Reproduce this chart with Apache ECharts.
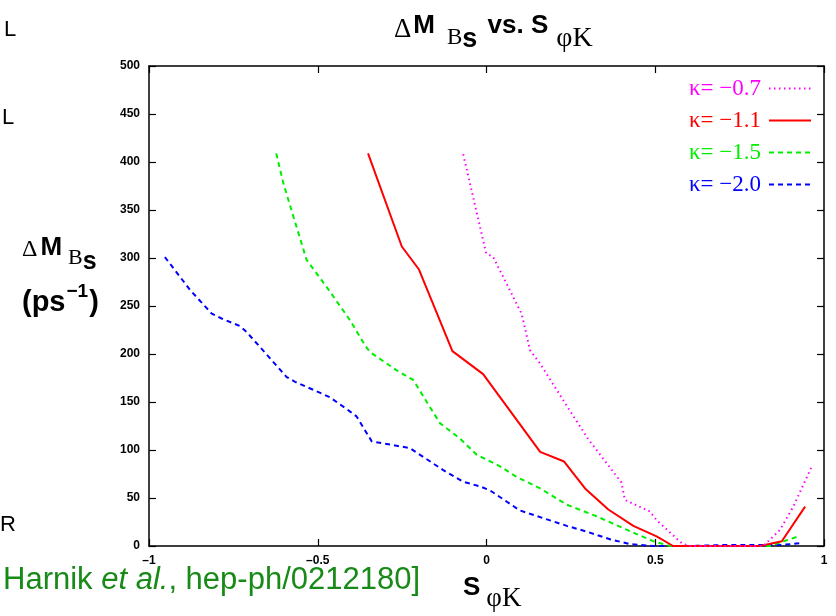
<!DOCTYPE html>
<html><head><meta charset="utf-8">
<script src="https://cdn.jsdelivr.net/npm/echarts@6/dist/echarts.min.js"></script>
<style>html,body{margin:0;padding:0;background:#fff}#c{width:836px;height:616px}</style>
</head><body><div id="c"></div>
<script>
const seriesNames = ['κ= −0.7', 'κ= −1.1', 'κ= −1.5', 'κ= −2.0'];
const xTicks = [-1, -0.5, 0, 0.5, 1];
const yTicks = [0, 50, 100, 150, 200, 250, 300, 350, 400, 450, 500];
const kappa07 = [[-0.069,408],[-0.001,305],[0.02,301],[0.104,242],[0.129,204],[0.159,190],[0.227,152],[0.30,112],[0.40,66],[0.41,48],[0.484,36],[0.504,27],[0.578,3],[0.60,0],[0.70,0],[0.82,0],[0.87,17],[0.909,41],[0.964,83]];
const kappa11 = [[-0.351,409],[-0.251,312],[-0.20,288],[-0.101,203],[-0.01,179],[0.159,98],[0.23,88],[0.292,60],[0.361,38],[0.435,21],[0.504,10],[0.553,0],[0.65,0],[0.75,0],[0.81,0],[0.875,5],[0.944,41]];
const kappa15 = [[-0.623,409],[-0.602,378],[-0.572,343],[-0.533,298],[-0.474,270],[-0.404,235],[-0.36,209],[-0.345,202],[-0.266,183],[-0.217,173],[-0.177,150],[-0.138,128],[-0.079,112],[-0.029,95],[0.04,83],[0.089,72],[0.159,60],[0.238,43],[0.326,31],[0.415,17],[0.494,5],[0.544,0],[0.65,0],[0.75,0],[0.84,0],[0.89,6],[0.924,10]];
const kappa20 = [[-0.953,301],[-0.879,267],[-0.814,242],[-0.785,237],[-0.73,229],[-0.711,223],[-0.592,176],[-0.567,171],[-0.464,155],[-0.404,140],[-0.385,135],[-0.34,109],[-0.227,102],[-0.128,79],[-0.069,67],[-0.019,62],[0.01,58],[0.099,37],[0.168,29],[0.238,21],[0.297,15],[0.366,7],[0.425,2],[0.494,0],[0.60,0],[0.70,1],[0.80,1],[0.87,1],[0.934,3]];
const seriesData = [kappa07, kappa11, kappa15, kappa20];
const colors = ['#ff00ff', '#ff0000', '#00ee00', '#0000ff'];
const dashes = [[1.5, 3.5], 'solid', [5, 4], [5, 4]];

const fmt = v => (v < 0 ? '–' + Math.abs(v) : String(v));
const SANS = 'Liberation Sans, Arial, sans-serif';
const SERIF = 'Liberation Serif, Times New Roman, serif';

const chart = echarts.init(document.getElementById('c'), null, {renderer: 'canvas'});
const baseAxis = {
  type: 'value',
  axisLine: {show: true, onZero: false, lineStyle: {color: '#000', width: 1.5}},
  axisTick: {show: true, inside: true, length: 7, lineStyle: {color: '#000', width: 1.2}},
  splitLine: {show: false}
};
chart.setOption({
  animation: false,
  backgroundColor: '#fff',
  grid: {left: 149, right: 12, top: 66, bottom: 70, containLabel: false, outerBoundsMode: 'none'},
  title: {
    left: 389, top: 8,
    text: '{d|Δ}{m|M}{b|B}{s|s}{m| vs. S}{p|φK}',
    textStyle: {
      fontWeight: 'normal',
      rich: {
        d: {fontFamily: SERIF, fontWeight: 'normal', fontSize: 27, color: '#000', lineHeight: 30, verticalAlign: 'top', padding: [3, 2, 0, 0]},
        m: {fontFamily: SANS, fontWeight: 'bold', fontSize: 26, color: '#000', lineHeight: 30, verticalAlign: 'top'},
        b: {fontFamily: SERIF, fontWeight: 'normal', fontSize: 23, color: '#000', lineHeight: 24, verticalAlign: 'top', padding: [13, 0, 0, 12]},
        s: {fontFamily: SANS, fontWeight: 'bold', fontSize: 27, color: '#000', lineHeight: 26, verticalAlign: 'top', padding: [13, 3, 0, 0]},
        p: {fontFamily: SERIF, fontWeight: 'normal', fontSize: 28, color: '#000', lineHeight: 28, verticalAlign: 'top', padding: [12, 0, 0, 8]}
      }
    }
  },
  legend: {
    orient: 'vertical', right: 19, top: 72, align: 'right',
    itemWidth: 42, itemHeight: 12, itemGap: 9,
    itemStyle: {color: 'rgba(0,0,0,0)', borderColor: 'rgba(0,0,0,0)', borderWidth: 0},
    data: seriesNames.map((n, i) => ({name: n, textStyle: {color: colors[i]}})),
    textStyle: {fontFamily: SERIF, fontSize: 23, padding: [0, 3, 0, 0]}
  },
  xAxis: [
    Object.assign({}, baseAxis, {min: -1, max: 1, interval: 0.5, position: 'bottom',
      axisLabel: {color: '#000', fontFamily: SANS, fontWeight: 'bold', fontSize: 12, margin: 9, formatter: fmt}}),
    Object.assign({}, baseAxis, {min: -1, max: 1, interval: 0.5, position: 'top', axisLabel: {show: false}})
  ],
  yAxis: [
    Object.assign({}, baseAxis, {min: 0, max: 500, interval: 50, position: 'left',
      axisLabel: {color: '#000', fontFamily: SANS, fontWeight: 'bold', fontSize: 12, margin: 9}}),
    Object.assign({}, baseAxis, {min: 0, max: 500, interval: 50, position: 'right', axisLabel: {show: false}})
  ],
  series: seriesNames.map((n, i) => ({
    name: n, type: 'line', data: seriesData[i], showSymbol: false, symbol: 'none',
    xAxisIndex: 0, yAxisIndex: 0, color: colors[i],
    lineStyle: {color: colors[i], width: 2, type: dashes[i]},
    z: 10 - i
  })),
  graphic: [
    {type: 'text', left: 22, top: 235, style: {
      text: '{d|Δ}{m|M}{b|B}{s|s}',
      rich: {
        d: {fontFamily: SERIF, fontSize: 24, fill: '#000', lineHeight: 30, verticalAlign: 'top', padding: [3, 3, 0, 0]},
        m: {fontFamily: SANS, fontWeight: 'bold', fontSize: 26, fill: '#000', lineHeight: 30, verticalAlign: 'top'},
        b: {fontFamily: SERIF, fontSize: 22, fill: '#000', lineHeight: 24, verticalAlign: 'top', padding: [12, 0, 0, 6]},
        s: {fontFamily: SANS, fontWeight: 'bold', fontSize: 25, fill: '#000', lineHeight: 24, verticalAlign: 'top', padding: [15, 0, 0, 0]}
      }}},
    {type: 'text', left: 22, top: 282, style: {
      text: '{m|(ps}{u|−1}{m|)}',
      rich: {
        m: {fontFamily: SANS, fontWeight: 'bold', fontSize: 29, fill: '#000', lineHeight: 36, verticalAlign: 'top', padding: [6, 0, 0, 0]},
        u: {fontFamily: SANS, fontWeight: 'bold', fontSize: 19, fill: '#000', lineHeight: 22, verticalAlign: 'top', padding: [0, 1, 0, 1]}
      }}},
    {type: 'text', left: 463, top: 575, style: {
      text: '{m|S}{p|φK}',
      rich: {
        m: {fontFamily: SANS, fontWeight: 'bold', fontSize: 26, fill: '#000', lineHeight: 30, verticalAlign: 'top'},
        p: {fontFamily: SERIF, fontSize: 27, fill: '#000', lineHeight: 28, verticalAlign: 'top', padding: [10, 0, 0, 6]}
      }}},
    {type: 'text', left: 3, top: 565, style: {
      text: 'Harnik {i|et al.}, hep-ph/0212180]',
      font: '31px ' + SANS, fill: '#178a17',
      rich: {i: {fontFamily: SANS, fontStyle: 'italic', fontSize: 31, fill: '#178a17'}}
    }},
    {type: 'text', left: 4, top: 19, style: {text: 'L', font: '22px ' + SANS, fill: '#000'}},
    {type: 'text', left: 2, top: 107, style: {text: 'L', font: '22px ' + SANS, fill: '#000'}},
    {type: 'text', left: 0, top: 514, style: {text: 'R', font: '22px ' + SANS, fill: '#000'}}
  ]
});
</script></body></html>
